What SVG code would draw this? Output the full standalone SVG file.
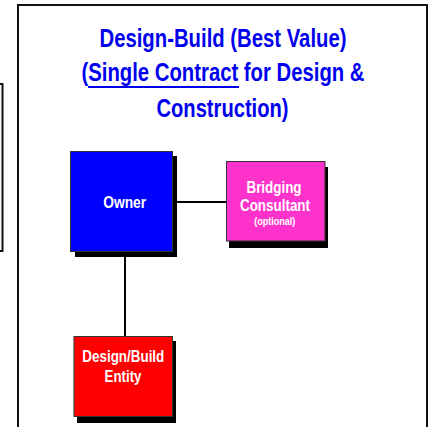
<svg xmlns="http://www.w3.org/2000/svg" width="430" height="427" viewBox="0 0 430 427">
<style>
.t{font-family:"Liberation Sans",Arial,sans-serif;font-weight:bold;fill:#0000EE;font-size:26px;text-anchor:middle}
.n{font-family:"Liberation Sans",Arial,sans-serif;font-weight:bold;fill:#fff;text-anchor:middle}
.box{stroke:#333;stroke-width:1}
.sh{fill:#000}
.c{stroke:#000;stroke-width:2;fill:none}
</style>
<rect width="430" height="427" fill="#fff"/>
<g id="frame" fill="none" stroke="#111" stroke-width="2">
<path d="M18,430 V5 H427 V430"/>
<path d="M0,84 H2.5 V251 H0"/>
</g>
<g id="title">
<text class="t" x="223" y="46.5" textLength="247" lengthAdjust="spacingAndGlyphs">Design-Build (Best Value)</text>
<text class="t" x="223" y="81" textLength="283" lengthAdjust="spacingAndGlyphs">(Single Contract for Design &amp;</text>
<line x1="88" y1="87" x2="239" y2="87" stroke="#0000EE" stroke-width="2"/>
<text class="t" x="222.5" y="117" textLength="132" lengthAdjust="spacingAndGlyphs">Construction)</text>
</g>
<g id="connectors">
<line class="c" x1="176" y1="202" x2="226" y2="202"/>
<line class="c" x1="125" y1="257" x2="125" y2="336"/>
</g>
<g id="owner">
<rect class="sh" x="75" y="156" width="102" height="101"/>
<rect class="box" x="70.5" y="151.5" width="102" height="100" fill="#0000FF"/>
<text class="n" x="124.7" y="208" font-size="17" textLength="43" lengthAdjust="spacingAndGlyphs">Owner</text>
</g>
<g id="bridging">
<rect class="sh" x="229" y="167" width="99" height="81"/>
<rect class="box" x="226.5" y="161.5" width="98.5" height="79.5" fill="#FF33CC"/>
<text class="n" x="274" y="193" font-size="16" textLength="55" lengthAdjust="spacingAndGlyphs">Bridging</text>
<text class="n" x="275" y="211" font-size="16" textLength="70" lengthAdjust="spacingAndGlyphs">Consultant</text>
<text class="n" x="274.7" y="225" font-size="10" textLength="41" lengthAdjust="spacingAndGlyphs">(optional)</text>
</g>
<g id="dbentity">
<rect class="sh" x="77" y="341" width="99" height="82"/>
<rect class="box" x="74" y="336.5" width="98.5" height="80" fill="#FF0000"/>
<text class="n" x="123.3" y="362" font-size="16" textLength="82" lengthAdjust="spacingAndGlyphs">Design/Build</text>
<text class="n" x="123" y="382" font-size="16" textLength="37" lengthAdjust="spacingAndGlyphs">Entity</text>
</g>
</svg>
